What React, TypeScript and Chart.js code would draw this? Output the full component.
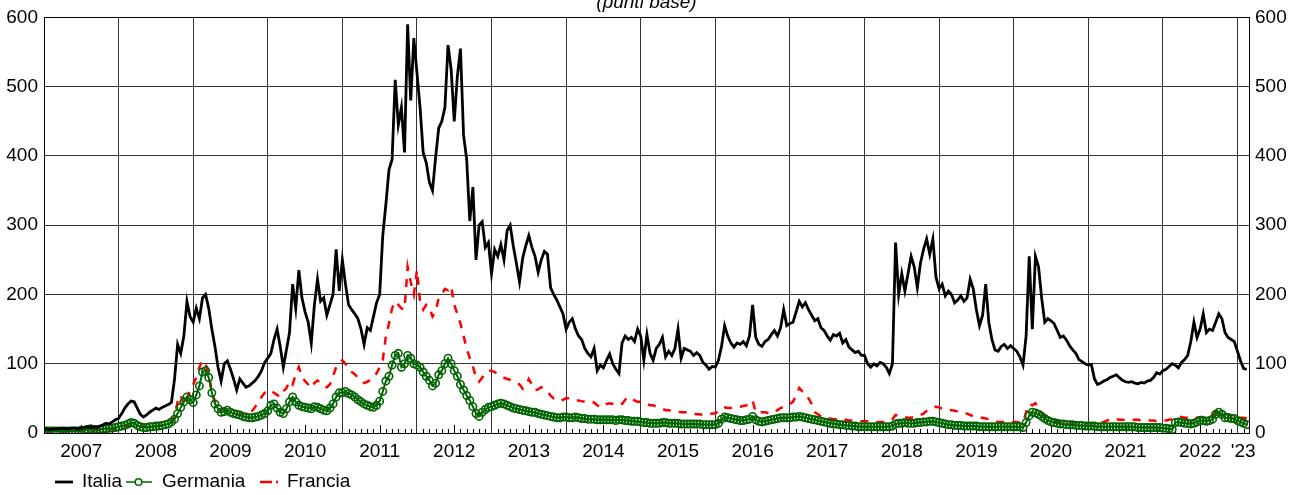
import React, { useEffect, useRef } from 'react';
import { Chart, registerables } from 'chart.js';

Chart.register(...registerables);

// Semi-monthly observations starting January 2007 (24 per year), basis points
const START_YEAR = 2007;
const STEPS_PER_YEAR = 24;
const X_MAX = 2023.155;

const yearLabels = [
  '2007', '2008', '2009', '2010', '2011', '2012', '2013', '2014',
  '2015', '2016', '2017', '2018', '2019', '2020', '2021', '2022', "'23",
];

const yTicks = [0, 100, 200, 300, 400, 500, 600];

const seriesNames = ['Italia', 'Germania', 'Francia'];

const italia = [
  6, 6, 5, 6, 6, 6, 7, 6, 6, 7, 7, 6, 7, 8, 9, 8, 9, 8, 10, 12, 14, 13, 16, 19,
  21, 28, 36, 42, 46, 45, 36, 27, 23, 26, 30, 33, 36, 34, 37, 39, 41, 44, 78, 128, 115, 140, 190, 168,
  160, 180, 165, 195, 200, 180, 150, 125, 95, 75, 100, 104, 92, 78, 62, 78, 72, 66, 68, 72, 76, 82, 90, 102,
  108, 115, 135, 150, 125, 95, 120, 145, 215, 180, 235, 195, 175, 160, 130, 185, 222, 190, 195, 170, 185, 200, 265, 205,
  250, 215, 185, 178, 172, 165, 150, 128, 152, 148, 168, 188, 200, 285, 330, 380, 395, 510, 445, 470, 405, 590, 480, 570,
  520, 470, 405, 390, 362, 350, 398, 440, 450, 470, 560, 525, 450, 515, 555, 430, 395, 306, 355, 250, 300, 305, 268, 275,
  230, 265, 255, 272, 250, 292, 300, 270, 245, 218, 252, 270, 285, 268, 255, 232, 250, 262, 258, 210, 200, 192, 182, 172,
  150, 160, 165, 150, 140, 135, 122, 115, 110, 122, 90, 98, 94, 105, 114, 100, 92, 86, 130, 140, 135, 138, 132, 150,
  140, 105, 142, 115, 105, 122, 128, 138, 110, 118, 112, 122, 150, 108, 122, 120, 118, 112, 116, 112, 102, 98, 92, 96,
  95, 105, 125, 155, 140, 130, 124, 130, 128, 132, 126, 140, 185, 138, 128, 125, 132, 135, 142, 148, 140, 152, 178, 155,
  158, 160, 175, 190, 182, 188, 178, 170, 162, 165, 152, 148, 140, 134, 142, 140, 144, 130, 135, 124, 120, 116, 118, 112,
  112, 100, 95, 100, 97, 102, 100, 95, 86, 100, 275, 200, 230, 205, 230, 255, 240, 210, 245, 265, 280, 258, 280, 225,
  208, 215, 198, 205, 200, 188, 192, 198, 190, 195, 222, 208, 178, 155, 170, 215, 160, 135, 120, 118, 125, 128, 122, 126,
  122, 118, 110, 98, 140, 255, 150, 255, 240, 195, 160, 165, 162, 158, 148, 138, 140, 134, 126, 120, 115, 106, 103, 100,
  98, 99, 78, 70, 72, 75, 77, 80, 82, 84, 80, 76, 74, 73, 74, 72, 71, 73, 72, 75, 76, 80, 87, 85,
  90, 92, 96, 100, 98, 94, 102, 106, 112, 132, 160, 138, 150, 172, 145, 150, 148, 160, 172, 165, 145, 138, 135, 132,
  118, 104, 93, 92,
];

const germania = [
  3, 3, 3, 3, 3, 3, 3, 3, 3, 3, 3, 3, 4, 4, 5, 6, 5, 5, 5, 6, 6, 7, 7, 8,
  9, 10, 11, 13, 15, 14, 11, 9, 8, 8, 9, 9, 10, 10, 11, 12, 13, 16, 20, 28, 37, 45, 52, 48,
  44, 55, 68, 88, 90, 80, 58, 42, 35, 30, 31, 33, 30, 28, 27, 26, 24, 23, 22, 22, 23, 24, 26, 28,
  32, 40, 42, 36, 30, 28, 35, 45, 52, 45, 40, 38, 37, 36, 35, 38, 37, 35, 33, 32, 36, 42, 52, 58,
  58, 60, 57, 55, 52, 48, 45, 42, 40, 38, 37, 40, 46, 60, 75, 82, 98, 112, 115, 95, 100, 112, 108, 100,
  98, 95, 88, 82, 76, 68, 72, 84, 90, 100, 108, 100, 90, 82, 70, 62, 54, 47, 38, 28, 24, 30, 34, 37,
  38, 40, 42, 43, 42, 40, 38, 36, 35, 34, 33, 32, 31, 30, 30, 28, 27, 26, 25, 24, 23, 22, 22, 23,
  23, 22, 22, 23, 22, 21, 21, 20, 20, 20, 19, 19, 19, 19, 19, 19, 18, 19, 19, 18, 18, 17, 17, 17,
  16, 15, 15, 14, 14, 14, 14, 15, 15, 14, 14, 14, 14, 13, 13, 13, 13, 13, 13, 13, 12, 12, 12, 12,
  12, 14, 20, 23, 22, 21, 20, 19, 18, 18, 19, 20, 24, 19, 17, 16, 17, 18, 19, 20, 21, 22, 22, 22,
  22, 23, 23, 24, 23, 22, 21, 20, 19, 18, 17, 16, 15, 14, 13, 13, 12, 12, 11, 11, 10, 10, 9, 9,
  9, 9, 9, 9, 9, 9, 9, 9, 9, 10, 13, 14, 14, 15, 14, 14, 14, 15, 15, 16, 16, 17, 17, 16,
  15, 14, 13, 12, 12, 11, 11, 11, 10, 10, 10, 10, 10, 9, 9, 9, 9, 9, 9, 9, 9, 9, 9, 9,
  9, 9, 9, 8, 15, 25, 30, 29, 27, 24, 21, 18, 16, 15, 14, 13, 13, 12, 12, 12, 11, 11, 11, 10,
  10, 10, 10, 9, 9, 9, 9, 9, 9, 9, 9, 9, 9, 9, 9, 9, 8, 8, 8, 8, 8, 8, 8, 8,
  7, 7, 6, 5, 15, 16, 15, 14, 14, 13, 14, 16, 18, 18, 17, 18, 20, 27, 30, 27, 22, 22, 21, 21,
  18, 16, 14, 12,
];

const francia = [
  2, 2, 2, 2, 2, 2, 2, 2, 2, 2, 3, 3, 3, 3, 4, 4, 4, 4, 4, 5, 5, 5, 6, 6,
  7, 8, 9, 10, 11, 10, 9, 9, 9, 9, 10, 10, 10, 10, 11, 12, 12, 14, 25, 45, 55, 40, 50, 62,
  70, 80, 95, 105, 100, 85, 60, 45, 38, 35, 34, 33, 31, 30, 28, 26, 26, 28, 30, 32, 38, 45, 52, 58,
  60, 62, 58, 55, 52, 60, 65, 75, 70, 85, 95, 80, 75, 70, 65, 72, 76, 72, 68, 66, 70, 82, 95, 102,
  105, 100, 92, 88, 85, 80, 76, 72, 74, 76, 80, 86, 95, 105, 140, 158, 180, 190, 185, 180, 178, 240, 218, 200,
  235, 190, 178, 185, 182, 168, 175, 195, 200, 208, 206, 212, 185, 172, 158, 140, 122, 108, 96, 80, 74, 80, 86, 90,
  90, 88, 85, 82, 80, 78, 77, 75, 73, 70, 64, 68, 78, 70, 62, 63, 66, 64, 60, 54, 50, 48, 46, 48,
  50, 50, 48, 47, 47, 46, 45, 44, 45, 44, 40, 37, 38, 42, 43, 42, 40, 40, 42, 48, 52, 50, 47, 45,
  45, 44, 42, 40, 40, 38, 36, 35, 33, 33, 32, 32, 31, 30, 30, 30, 29, 28, 27, 27, 26, 26, 27, 28,
  28, 32, 36, 37, 36, 36, 37, 38, 38, 39, 40, 42, 47, 30, 29, 30, 30, 29, 28, 30, 33, 36, 38, 40,
  42, 45, 55, 65, 60, 58, 50, 42, 30, 27, 24, 22, 21, 21, 20, 20, 19, 19, 19, 18, 18, 18, 17, 17,
  17, 17, 16, 16, 16, 16, 16, 16, 17, 20, 26, 25, 24, 23, 22, 22, 23, 25, 26, 28, 32, 35, 37, 38,
  37, 35, 34, 33, 33, 32, 31, 30, 29, 28, 26, 24, 23, 22, 22, 21, 20, 18, 17, 16, 16, 16, 16, 16,
  16, 16, 15, 15, 30, 42, 40, 43, 36, 30, 24, 22, 20, 18, 17, 16, 16, 16, 15, 15, 15, 15, 14, 14,
  14, 14, 14, 14, 15, 16, 18, 20, 21, 20, 19, 19, 19, 19, 19, 19, 19, 18, 18, 18, 18, 18, 17, 17,
  18, 18, 19, 20, 22, 23, 23, 22, 22, 21, 21, 22, 23, 23, 24, 23, 26, 30, 33, 30, 28, 27, 25, 24,
  23, 22, 22, 21,
];

const COLORS = { italia: '#000000', germania: '#006400', francia: '#ff0000' };
const FONT = "'Liberation Sans', Arial, sans-serif";

const toPoints = (arr: number[]) =>
  arr.map((v, i) => ({ x: START_YEAR + i / STEPS_PER_YEAR, y: v }));

const framePlugin = {
  id: 'frameAndExtras',
  beforeDatasetsDraw(chart: any) {
    const { ctx, chartArea } = chart;
    const xs = chart.scales.x;
    ctx.save();
    ctx.strokeStyle = '#000';
    ctx.lineWidth = 1;
    // monthly minor ticks pointing into the plot, taller at mid-year
    for (let y = START_YEAR; y < 2024; y++) {
      for (let m = 1; m < 12; m++) {
        const v = y + m / 12;
        if (v >= X_MAX) break;
        const px = Math.round(xs.getPixelForValue(v)) + 0.5;
        const len = m === 6 ? 8 : 4;
        ctx.beginPath();
        ctx.moveTo(px, chartArea.bottom);
        ctx.lineTo(px, chartArea.bottom - len);
        ctx.stroke();
      }
    }
    ctx.restore();
  },
  afterDraw(chart: any) {
    const { ctx, chartArea } = chart;
    ctx.save();
    // frame
    ctx.strokeStyle = '#000';
    ctx.lineWidth = 1;
    ctx.strokeRect(
      Math.round(chartArea.left) + 0.5,
      Math.round(chartArea.top) + 0.5,
      Math.round(chartArea.right - chartArea.left),
      Math.round(chartArea.bottom - chartArea.top)
    );
    // title (cropped at the top)
    ctx.fillStyle = '#000';
    ctx.font = `italic 19px ${FONT}`;
    ctx.textAlign = 'center';
    ctx.textBaseline = 'alphabetic';
    ctx.fillText('(punti base)', (chartArea.left + chartArea.right) / 2, 8);

    // legend
    const ly = 482;
    ctx.font = `19px ${FONT}`;
    ctx.textAlign = 'left';
    ctx.textBaseline = 'middle';
    // Italia
    ctx.strokeStyle = COLORS.italia;
    ctx.lineWidth = 2.8;
    ctx.beginPath();
    ctx.moveTo(55, ly);
    ctx.lineTo(73, ly);
    ctx.stroke();
    ctx.fillText(seriesNames[0], 82, ly);
    // Germania
    ctx.strokeStyle = COLORS.germania;
    ctx.lineWidth = 1.5;
    ctx.beginPath();
    ctx.moveTo(126, ly);
    ctx.lineTo(152, ly);
    ctx.stroke();
    ctx.beginPath();
    ctx.arc(138.5, ly, 3.3, 0, Math.PI * 2);
    ctx.fillStyle = '#fff';
    ctx.fill();
    ctx.stroke();
    ctx.fillStyle = '#000';
    ctx.fillText(seriesNames[1], 162, ly);
    // Francia
    ctx.strokeStyle = COLORS.francia;
    ctx.lineWidth = 2.5;
    ctx.setLineDash([12, 4]);
    ctx.beginPath();
    ctx.moveTo(260, ly);
    ctx.lineTo(278, ly);
    ctx.stroke();
    ctx.setLineDash([]);
    ctx.fillText(seriesNames[2], 287, ly);
    ctx.restore();
  },
};

export default function App() {
  const canvasRef = useRef<HTMLCanvasElement | null>(null);

  useEffect(() => {
    document.body.style.margin = '0';
    const canvas = canvasRef.current;
    if (!canvas) return;

    Chart.defaults.font.family = FONT;
    Chart.defaults.font.size = 19;
    Chart.defaults.color = '#000';

    const gridColor = 'rgba(0,0,0,0.8)';

    const chart = new Chart(canvas, {
      type: 'line',
      data: {
        datasets: [
          {
            label: seriesNames[0],
            data: toPoints(italia),
            borderColor: COLORS.italia,
            borderWidth: 2.8,
            pointRadius: 0,
            tension: 0,
          },
          {
            label: seriesNames[1],
            data: toPoints(germania),
            borderColor: COLORS.germania,
            borderWidth: 2,
            pointRadius: 3.7,
            pointBorderWidth: 1.6,
            pointBorderColor: COLORS.germania,
            pointBackgroundColor: 'rgba(255,255,255,0)',
            tension: 0,
          },
          {
            label: seriesNames[2],
            data: toPoints(francia),
            borderColor: COLORS.francia,
            borderWidth: 2.5,
            borderDash: [8, 8],
            pointRadius: 0,
            tension: 0,
          },
        ],
      },
      options: {
        responsive: false,
        devicePixelRatio: 1,
        animation: false,
        events: [],
        layout: { padding: { top: 16, bottom: 32, left: 0, right: 0 } },
        plugins: {
          legend: { display: false },
          title: { display: false },
          tooltip: { enabled: false },
        },
        scales: {
          x: {
            type: 'linear',
            min: START_YEAR,
            max: X_MAX,
            border: { display: true, color: '#000' },
            grid: {
              drawTicks: false,
              color: (ctx: any) =>
                ctx.tick && Number.isInteger(ctx.tick.value) ? gridColor : 'rgba(0,0,0,0)',
            },
            ticks: {
              autoSkip: false,
              maxRotation: 0,
              padding: 7,
              font: { size: 19 },
              callback: (value: any) => {
                const v = Number(value);
                if (Number.isInteger(v)) return '';
                return yearLabels[Math.floor(v) - START_YEAR] ?? '';
              },
            },
            afterBuildTicks: (scale: any) => {
              const t: { value: number }[] = [];
              for (let y = START_YEAR + 1; y <= 2023; y++) t.push({ value: y });
              yearLabels.forEach((_, i) => {
                const y0 = START_YEAR + i;
                const y1 = Math.min(y0 + 1, X_MAX);
                t.push({ value: (y0 + y1) / 2 });
              });
              t.sort((a, b) => a.value - b.value);
              scale.ticks = t;
            },
            afterFit: (scale: any) => {
              scale.height = 30;
            },
          },
          y: {
            position: 'left',
            min: 0,
            max: 600,
            border: { display: true, color: '#000' },
            grid: { drawTicks: false, color: gridColor },
            ticks: { stepSize: 100, padding: 6, font: { size: 19 } },
            afterBuildTicks: (scale: any) => {
              scale.ticks = yTicks.map((v) => ({ value: v }));
            },
            afterFit: (scale: any) => {
              scale.width = 44;
            },
          },
          y2: {
            position: 'right',
            min: 0,
            max: 600,
            border: { display: true, color: '#000' },
            grid: { drawTicks: false, drawOnChartArea: false },
            ticks: { stepSize: 100, padding: 6, font: { size: 19 } },
            afterBuildTicks: (scale: any) => {
              scale.ticks = yTicks.map((v) => ({ value: v }));
            },
            afterFit: (scale: any) => {
              scale.width = 54;
            },
          },
        },
      } as any,
      plugins: [framePlugin],
    });

    return () => {
      chart.destroy();
    };
  }, []);

  return (
    <div style={{ position: 'relative', width: 1303, height: 495, background: '#fff' }}>
      <canvas ref={canvasRef} width={1303} height={495} style={{ display: 'block' }} />
    </div>
  );
}
